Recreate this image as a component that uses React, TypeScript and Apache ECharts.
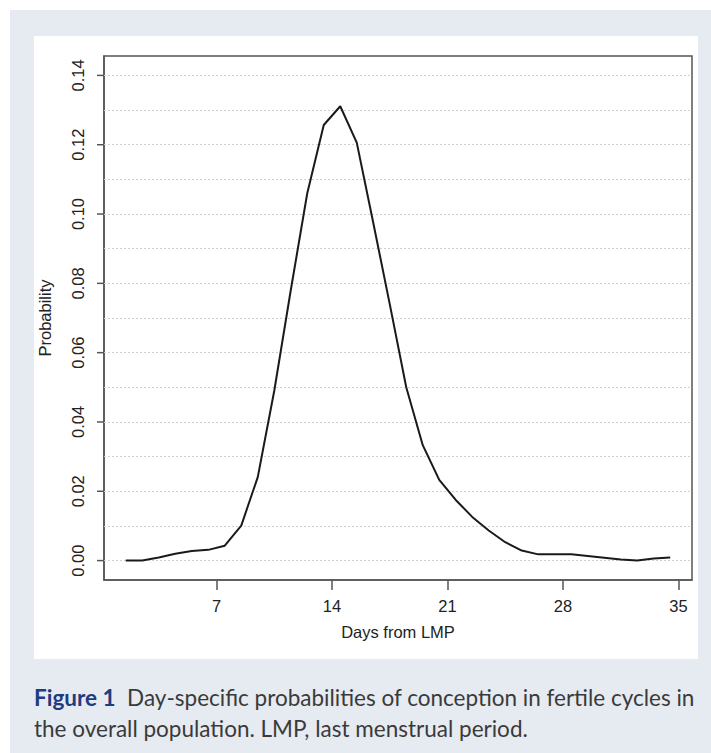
import React, { useEffect, useRef } from "react";
import * as echarts from "echarts";

// Day (mid-day, from LMP) and day-specific probability of conception
const days = [
  1.5, 2.5, 3.5, 4.5, 5.5, 6.5, 7.5, 8.5, 9.5, 10.5, 11.5, 12.5, 13.5, 14.5, 15.5, 16.5, 17.5,
  18.5, 19.5, 20.5, 21.5, 22.5, 23.5, 24.5, 25.5, 26.5, 27.5, 28.5, 29.5, 30.5, 31.5, 32.5, 33.5, 34.5,
];
const probability = [
  0.0, 0.0, 0.0009, 0.002, 0.0028, 0.0031, 0.0043, 0.0101, 0.0241, 0.049, 0.078, 0.106, 0.1257,
  0.1311, 0.1206, 0.0975, 0.074, 0.05, 0.0333, 0.0233, 0.0175, 0.0126, 0.0087, 0.0053, 0.0029,
  0.0018, 0.0018, 0.0018, 0.0013, 0.0008, 0.0003, 0.0, 0.0006, 0.0009,
];
const xTicks = [7, 14, 21, 28, 35];
const yTicks = [0, 0.02, 0.04, 0.06, 0.08, 0.1, 0.12, 0.14];
const gridValues = [0, 0.01, 0.02, 0.03, 0.04, 0.05, 0.06, 0.07, 0.08, 0.09, 0.1, 0.11, 0.12, 0.13, 0.14];
const xName = "Days from LMP";
const yName = "Probability";
const captionLabel = "Figure 1";
const captionLine1 = "Day-specific probabilities of conception in fertile cycles in";
const captionLine2 = "the overall population. LMP, last menstrual period.";

const X_MIN = 0.18;
const X_MAX = 35.82;

export default function App() {
  const ref = useRef<HTMLDivElement>(null);
  useEffect(() => {
    if (!ref.current) return;
    const chart = echarts.init(ref.current, null, { renderer: "svg" });
    const axisColor = "#555";
    const font = "'Liberation Sans', Arial, sans-serif";
    const capFont = "Lato, 'Open Sans', sans-serif";
    chart.setOption({
      animation: false,
      backgroundColor: "#ffffff",
      graphic: [
        { type: "rect", z: -10, shape: { x: 10, y: 10, width: 701, height: 743 }, style: { fill: "#e6eaf1" } },
        { type: "rect", z: -9, shape: { x: 34, y: 36, width: 664, height: 623 }, style: { fill: "#ffffff" } },
        {
          type: "text",
          left: 34,
          top: 686,
          style: {
            text: "{b|" + captionLabel + "}{n|  " + captionLine1 + "}",
            rich: {
              b: { fontFamily: capFont, fontSize: 22.5, fontWeight: "bold", fill: "#1f3c80" },
              n: { fontFamily: capFont, fontSize: 22.5, fill: "#3a3a3a" },
            },
          },
        },
        {
          type: "text",
          left: 34,
          top: 717,
          style: {
            text: captionLine2,
            fontFamily: capFont,
            fontSize: 22.5,
            fill: "#3a3a3a",
          },
        },
      ],
      grid: {
        left: 104,
        top: 56,
        width: 588,
        height: 524,
        show: true,
        borderColor: axisColor,
        borderWidth: 1.5,
        backgroundColor: "#ffffff",
        containLabel: false,
      },
      xAxis: {
        type: "value",
        min: X_MIN,
        max: X_MAX,
        name: xName,
        nameLocation: "middle",
        nameGap: 43,
        nameTextStyle: { fontFamily: font, fontSize: 16.5, color: "#222" },
        axisLine: { show: true, onZero: false, lineStyle: { color: axisColor, width: 1.5 } },
        splitLine: { show: false },
        axisTick: { show: true, inside: false, customValues: xTicks, length: 10, lineStyle: { color: axisColor, width: 1.5 } },
        axisLabel: { show: true, customValues: xTicks, margin: 17, fontFamily: font, fontSize: 16.5, color: "#222" },
      },
      yAxis: {
        type: "value",
        min: -0.0056,
        max: 0.1456,
        name: yName,
        nameLocation: "middle",
        nameGap: 51,
        nameTextStyle: { fontFamily: font, fontSize: 16.5, color: "#222" },
        axisLine: { show: true, onZero: false, lineStyle: { color: axisColor, width: 1.5 } },
        splitLine: { show: false },
        axisTick: { show: false },
        axisLabel: {
          show: true,
          customValues: yTicks,
          rotate: 90,
          margin: 18,
          fontFamily: font,
          fontSize: 16.5,
          color: "#222",
          formatter: (v: number) => v.toFixed(2),
        },
      },
      series: [
        {
          type: "line",
          data: days.map((d, i) => [d, probability[i]]),
          showSymbol: false,
          symbol: "none",
          lineStyle: { color: "#1a1a1a", width: 2 },
          z: 3,
          markLine: {
            silent: true,
            symbol: "none",
            label: { show: false },
            lineStyle: { color: "#cfcfcf", type: [2, 2], width: 1 },
            data: gridValues.map((v) => ({ yAxis: v })),
            z: 1,
          },
        },
        {
          type: "custom",
          clip: false,
          silent: true,
          z: 4,
          data: yTicks.map((v) => [X_MIN, v]),
          renderItem: (params: any, api: any) => {
            const p = api.coord([api.value(0), api.value(1)]);
            return {
              type: "line",
              shape: { x1: p[0] - 7, y1: p[1], x2: p[0], y2: p[1] },
              style: { stroke: axisColor, lineWidth: 1.5 },
            };
          },
        },
      ],
    });
    return () => chart.dispose();
  }, []);
  return <div ref={ref} style={{ position: "absolute", left: 0, top: 0, width: 711, height: 753 }} />;
}
